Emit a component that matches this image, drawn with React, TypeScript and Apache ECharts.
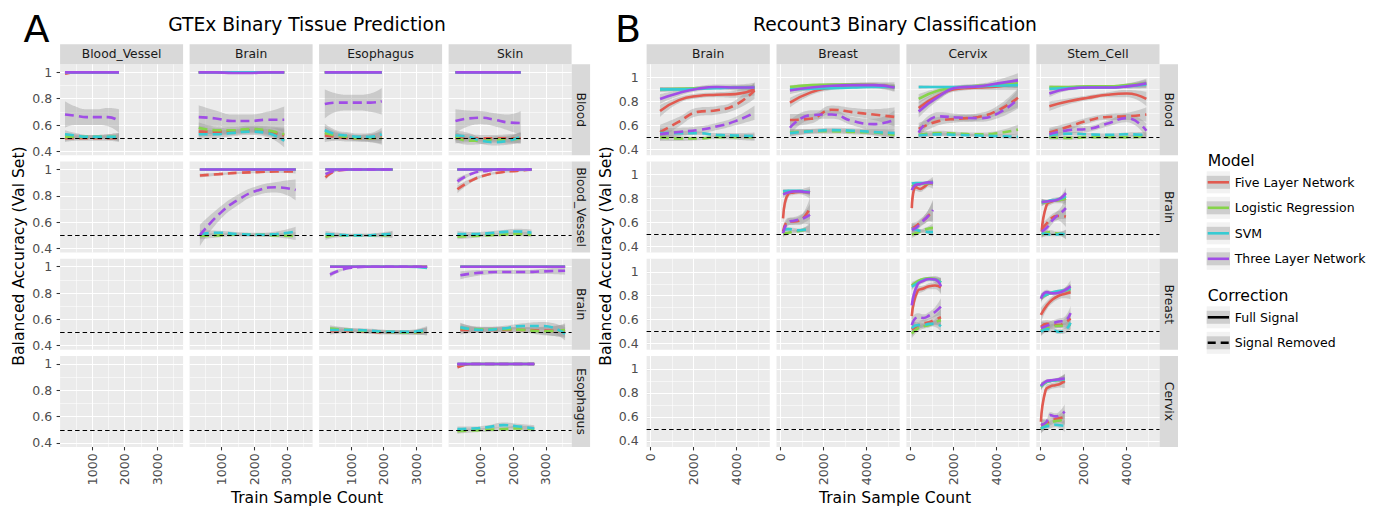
import React, { useEffect, useRef } from "react";
import * as echarts from "echarts";

const FONT = '"DejaVu Sans", "Liberation Sans", sans-serif';

// ---------- categories ----------
const models = ["Five Layer Network", "Logistic Regression", "SVM", "Three Layer Network"];
const corrections = ["Full Signal", "Signal Removed"];
const modelColors = ["#E15A50", "#86D44A", "#36CBD3", "#A04DE6"];

const gtexColumns = ["Blood_Vessel", "Brain", "Esophagus", "Skin"];
const gtexRows = ["Blood", "Blood_Vessel", "Brain", "Esophagus"];
const recountColumns = ["Brain", "Breast", "Cervix", "Stem_Cell"];
const recountRows = ["Blood", "Brain", "Breast", "Cervix"];

// ---------- tick values ----------
const gtexXTicks = [1000, 2000, 3000];
const gtexXMinor = [500, 1500, 2500, 3500];
const recountXTicks = [0, 2000, 4000];
const recountXMinor = [1000, 3000, 5000];
const yTicks = [0.4, 0.6, 0.8, 1.0];
const yMinor = [0.5, 0.7, 0.9];
const chanceLevel = 0.5;

// ---------- facet data ----------
// y / se rows in order: Five Full, Five Removed, LR Full, LR Removed,
// SVM Full, SVM Removed, Three Full, Three Removed
type Facet = { row: string; col: string; x: number[]; y: number[][]; se: number[][] };

const perfect = [1, 1, 1, 1, 1, 1];
const seFlat = [0.006, 0.003, 0.003, 0.003, 0.003, 0.006];

const gtexBloodBloodVessel: Facet = {
  row: "Blood", col: "Blood_Vessel",
  x: [170, 500, 830, 1160, 1490, 1825],
  y: [
    [0.99, 1, 1, 1, 1, 1], [0.5, 0.5, 0.5, 0.5, 0.5, 0.5],
    perfect, [0.51, 0.51, 0.51, 0.51, 0.51, 0.51],
    perfect, [0.53, 0.52, 0.51, 0.51, 0.51, 0.51],
    perfect, [0.68, 0.67, 0.66, 0.66, 0.66, 0.63],
  ],
  se: [
    [0.01, 0.004, 0.003, 0.003, 0.004, 0.008], [0.03, 0.02, 0.02, 0.02, 0.02, 0.03],
    seFlat, [0.03, 0.02, 0.015, 0.015, 0.02, 0.03],
    seFlat, [0.03, 0.02, 0.015, 0.015, 0.02, 0.03],
    seFlat, [0.1, 0.07, 0.06, 0.06, 0.07, 0.09],
  ],
};
const gtexBloodBrain: Facet = {
  row: "Blood", col: "Brain",
  x: [300, 820, 1340, 1860, 2380, 2920],
  y: [
    perfect, [0.55, 0.55, 0.55, 0.56, 0.55, 0.52],
    perfect, [0.58, 0.56, 0.56, 0.57, 0.56, 0.53],
    perfect, [0.53, 0.53, 0.54, 0.55, 0.54, 0.48],
    [1, 1, 0.995, 0.995, 1, 1], [0.66, 0.65, 0.63, 0.63, 0.64, 0.64],
  ],
  se: [
    seFlat, [0.04, 0.03, 0.025, 0.025, 0.03, 0.05],
    seFlat, [0.04, 0.03, 0.025, 0.025, 0.03, 0.05],
    seFlat, [0.04, 0.03, 0.025, 0.025, 0.03, 0.05],
    seFlat, [0.09, 0.06, 0.05, 0.05, 0.06, 0.1],
  ],
};
const gtexBloodEsophagus: Facet = {
  row: "Blood", col: "Esophagus",
  x: [195, 545, 895, 1245, 1595, 1940],
  y: [
    perfect, [0.52, 0.51, 0.5, 0.5, 0.5, 0.51],
    perfect, [0.54, 0.52, 0.51, 0.5, 0.5, 0.5],
    perfect, [0.56, 0.53, 0.52, 0.51, 0.51, 0.53],
    perfect, [0.76, 0.77, 0.77, 0.77, 0.77, 0.78],
  ],
  se: [
    seFlat, [0.05, 0.03, 0.025, 0.025, 0.03, 0.05],
    seFlat, [0.05, 0.03, 0.025, 0.025, 0.03, 0.05],
    seFlat, [0.05, 0.03, 0.025, 0.025, 0.03, 0.05],
    seFlat, [0.11, 0.07, 0.06, 0.06, 0.07, 0.1],
  ],
};
const gtexBloodSkin: Facet = {
  row: "Blood", col: "Skin",
  x: [230, 630, 1030, 1430, 1830, 2230],
  y: [
    perfect, [0.5, 0.5, 0.5, 0.5, 0.5, 0.5],
    perfect, [0.51, 0.48, 0.48, 0.49, 0.49, 0.5],
    perfect, [0.52, 0.51, 0.48, 0.47, 0.48, 0.51],
    perfect, [0.63, 0.65, 0.655, 0.64, 0.62, 0.615],
  ],
  se: [
    seFlat, [0.04, 0.03, 0.025, 0.025, 0.03, 0.04],
    seFlat, [0.04, 0.03, 0.025, 0.025, 0.03, 0.04],
    seFlat, [0.04, 0.03, 0.025, 0.025, 0.03, 0.04],
    seFlat, [0.09, 0.06, 0.05, 0.05, 0.06, 0.09],
  ],
};
const gtexBloodVesselBrain: Facet = {
  row: "Blood_Vessel", col: "Brain",
  x: [335, 920, 1505, 2090, 2675, 3270],
  y: [
    perfect, [0.955, 0.965, 0.975, 0.98, 0.985, 0.985],
    perfect, [0.495, 0.5, 0.505, 0.505, 0.5, 0.495],
    perfect, [0.51, 0.52, 0.51, 0.505, 0.51, 0.53],
    perfect, [0.5, 0.66, 0.77, 0.84, 0.865, 0.845],
  ],
  se: [
    seFlat, [0.015, 0.01, 0.008, 0.008, 0.01, 0.015],
    seFlat, [0.025, 0.015, 0.012, 0.012, 0.015, 0.03],
    seFlat, [0.03, 0.015, 0.015, 0.015, 0.02, 0.035],
    seFlat, [0.08, 0.05, 0.04, 0.035, 0.04, 0.08],
  ],
};
const gtexBloodVesselEsophagus: Facet = {
  row: "Blood_Vessel", col: "Esophagus",
  x: [215, 625, 1035, 1445, 1855, 2270],
  y: [
    perfect, [0.94, 0.995, 1, 1, 1, 1],
    perfect, [0.49, 0.5, 0.5, 0.5, 0.5, 0.505],
    perfect, [0.51, 0.505, 0.5, 0.5, 0.505, 0.51],
    perfect, [0.965, 0.995, 1, 1, 1, 1],
  ],
  se: [
    seFlat, [0.02, 0.006, 0.004, 0.004, 0.005, 0.008],
    seFlat, [0.025, 0.015, 0.012, 0.012, 0.015, 0.025],
    seFlat, [0.025, 0.015, 0.012, 0.012, 0.015, 0.025],
    seFlat, [0.015, 0.005, 0.004, 0.004, 0.005, 0.008],
  ],
};
const gtexBloodVesselSkin: Facet = {
  row: "Blood_Vessel", col: "Skin",
  x: [290, 745, 1200, 1655, 2110, 2560],
  y: [
    perfect, [0.85, 0.92, 0.96, 0.98, 0.99, 1.0],
    perfect, [0.49, 0.495, 0.5, 0.505, 0.51, 0.505],
    perfect, [0.51, 0.51, 0.515, 0.525, 0.53, 0.52],
    perfect, [0.91, 0.97, 0.99, 1, 1, 1],
  ],
  se: [
    seFlat, [0.03, 0.015, 0.01, 0.008, 0.008, 0.012],
    seFlat, [0.02, 0.015, 0.012, 0.012, 0.015, 0.02],
    seFlat, [0.025, 0.015, 0.015, 0.015, 0.02, 0.025],
    seFlat, [0.025, 0.01, 0.006, 0.005, 0.005, 0.008],
  ],
};
const gtexBrainEsophagus: Facet = {
  row: "Brain", col: "Esophagus",
  x: [355, 950, 1545, 2140, 2735, 3330],
  y: [
    perfect, [0.51, 0.51, 0.505, 0.5, 0.5, 0.51],
    perfect, [0.53, 0.52, 0.51, 0.505, 0.5, 0.51],
    [1, 1, 1, 1, 1, 0.99], [0.52, 0.52, 0.515, 0.505, 0.505, 0.52],
    perfect, [0.94, 0.99, 1, 1, 1, 1],
  ],
  se: [
    seFlat, [0.025, 0.015, 0.015, 0.015, 0.015, 0.03],
    seFlat, [0.025, 0.015, 0.015, 0.015, 0.015, 0.03],
    seFlat, [0.025, 0.015, 0.015, 0.015, 0.015, 0.03],
    seFlat, [0.02, 0.006, 0.004, 0.004, 0.004, 0.01],
  ],
};
const gtexBrainSkin: Facet = {
  row: "Brain", col: "Skin",
  x: [380, 1020, 1660, 2300, 2940, 3590],
  y: [
    perfect, [0.52, 0.52, 0.52, 0.52, 0.515, 0.51],
    perfect, [0.535, 0.525, 0.525, 0.52, 0.51, 0.52],
    perfect, [0.54, 0.52, 0.53, 0.55, 0.55, 0.49],
    perfect, [0.935, 0.955, 0.96, 0.96, 0.965, 0.97],
  ],
  se: [
    seFlat, [0.035, 0.02, 0.02, 0.02, 0.03, 0.05],
    seFlat, [0.035, 0.02, 0.02, 0.02, 0.03, 0.05],
    seFlat, [0.035, 0.02, 0.02, 0.02, 0.03, 0.05],
    seFlat, [0.03, 0.02, 0.015, 0.015, 0.02, 0.03],
  ],
};
const gtexEsophagusSkin: Facet = {
  row: "Esophagus", col: "Skin",
  x: [290, 760, 1230, 1700, 2170, 2645],
  y: [
    [0.975, 1, 1, 1, 1, 1], [0.99, 1, 1, 1, 1, 1],
    perfect, [0.49, 0.495, 0.5, 0.505, 0.51, 0.505],
    perfect, [0.505, 0.51, 0.52, 0.535, 0.525, 0.51],
    perfect, perfect,
  ],
  se: [
    [0.012, 0.004, 0.003, 0.003, 0.004, 0.008], seFlat,
    seFlat, [0.02, 0.015, 0.015, 0.015, 0.02, 0.02],
    seFlat, [0.02, 0.015, 0.015, 0.02, 0.02, 0.025],
    seFlat, seFlat,
  ],
};

const recountBloodBrain: Facet = {
  row: "Blood", col: "Brain",
  x: [445, 1320, 2195, 3070, 3945, 4830],
  y: [
    [0.72, 0.81, 0.845, 0.855, 0.86, 0.9], [0.544, 0.63, 0.712, 0.725, 0.77, 0.89],
    [0.9, 0.905, 0.91, 0.915, 0.915, 0.915], [0.5, 0.49, 0.49, 0.5, 0.5, 0.5],
    [0.9, 0.9, 0.905, 0.91, 0.915, 0.915], [0.535, 0.535, 0.535, 0.52, 0.515, 0.51],
    [0.82, 0.87, 0.905, 0.92, 0.915, 0.915], [0.525, 0.545, 0.56, 0.59, 0.635, 0.705],
  ],
  se: [
    [0.05, 0.025, 0.02, 0.02, 0.03, 0.05], [0.06, 0.04, 0.035, 0.035, 0.04, 0.07],
    [0.02, 0.015, 0.01, 0.01, 0.015, 0.02], [0.03, 0.02, 0.015, 0.015, 0.02, 0.03],
    [0.02, 0.015, 0.01, 0.01, 0.015, 0.02], [0.03, 0.02, 0.015, 0.015, 0.02, 0.03],
    [0.04, 0.025, 0.02, 0.02, 0.025, 0.04], [0.05, 0.035, 0.03, 0.03, 0.035, 0.06],
  ],
};
const recountBloodBreast: Facet = {
  row: "Blood", col: "Breast",
  x: [445, 1415, 2385, 3355, 4325, 5300],
  y: [
    [0.79, 0.875, 0.915, 0.935, 0.935, 0.92], [0.645, 0.655, 0.73, 0.71, 0.69, 0.67],
    [0.92, 0.935, 0.94, 0.94, 0.935, 0.92], [0.54, 0.55, 0.55, 0.545, 0.54, 0.52],
    [0.9, 0.905, 0.91, 0.915, 0.92, 0.92], [0.535, 0.55, 0.56, 0.555, 0.545, 0.535],
    [0.89, 0.915, 0.93, 0.935, 0.935, 0.915], [0.58, 0.685, 0.69, 0.635, 0.61, 0.645],
  ],
  se: [
    [0.04, 0.025, 0.02, 0.02, 0.025, 0.04], [0.05, 0.04, 0.035, 0.035, 0.045, 0.08],
    [0.015, 0.01, 0.01, 0.01, 0.01, 0.02], [0.03, 0.02, 0.02, 0.02, 0.025, 0.035],
    [0.015, 0.01, 0.01, 0.01, 0.01, 0.02], [0.03, 0.02, 0.02, 0.02, 0.025, 0.035],
    [0.03, 0.02, 0.015, 0.015, 0.02, 0.03], [0.06, 0.04, 0.035, 0.035, 0.045, 0.08],
  ],
};
const recountBloodCervix: Facet = {
  row: "Blood", col: "Cervix",
  x: [390, 1310, 2230, 3150, 4070, 5000],
  y: [
    [0.745, 0.85, 0.905, 0.915, 0.925, 0.945], [0.57, 0.635, 0.655, 0.67, 0.725, 0.83],
    [0.82, 0.89, 0.915, 0.93, 0.935, 0.95], [0.52, 0.535, 0.53, 0.525, 0.535, 0.565],
    [0.92, 0.92, 0.92, 0.925, 0.93, 0.935], [0.515, 0.525, 0.52, 0.515, 0.51, 0.505],
    [0.715, 0.84, 0.915, 0.925, 0.95, 0.975], [0.54, 0.675, 0.665, 0.66, 0.7, 0.82],
  ],
  se: [
    [0.05, 0.03, 0.02, 0.02, 0.03, 0.05], [0.05, 0.035, 0.03, 0.03, 0.04, 0.08],
    [0.04, 0.02, 0.015, 0.015, 0.02, 0.04], [0.03, 0.02, 0.015, 0.015, 0.02, 0.04],
    [0.015, 0.01, 0.01, 0.01, 0.01, 0.02], [0.02, 0.015, 0.012, 0.012, 0.015, 0.025],
    [0.05, 0.03, 0.02, 0.02, 0.03, 0.06], [0.05, 0.035, 0.03, 0.03, 0.04, 0.08],
  ],
};
const recountBloodStemCell: Facet = {
  row: "Blood", col: "Stem_Cell",
  x: [425, 1325, 2225, 3125, 4025, 4930],
  y: [
    [0.76, 0.8, 0.83, 0.855, 0.865, 0.82], [0.54, 0.59, 0.64, 0.67, 0.675, 0.69],
    [0.92, 0.92, 0.925, 0.925, 0.935, 0.95], [0.5, 0.495, 0.5, 0.5, 0.5, 0.51],
    [0.905, 0.91, 0.915, 0.915, 0.925, 0.94], [0.515, 0.53, 0.525, 0.52, 0.525, 0.52],
    [0.865, 0.905, 0.915, 0.915, 0.925, 0.95], [0.525, 0.56, 0.57, 0.615, 0.66, 0.555],
  ],
  se: [
    [0.04, 0.025, 0.02, 0.02, 0.03, 0.06], [0.04, 0.03, 0.025, 0.025, 0.03, 0.06],
    [0.015, 0.01, 0.01, 0.01, 0.015, 0.03], [0.02, 0.015, 0.012, 0.012, 0.015, 0.025],
    [0.015, 0.01, 0.01, 0.01, 0.015, 0.03], [0.02, 0.015, 0.012, 0.012, 0.015, 0.025],
    [0.03, 0.015, 0.012, 0.012, 0.02, 0.04], [0.04, 0.03, 0.025, 0.025, 0.035, 0.06],
  ],
};
const recountBrainBreast: Facet = {
  row: "Brain", col: "Breast",
  x: [125, 375, 625, 875, 1125, 1375],
  y: [
    [0.635, 0.84, 0.85, 0.855, 0.855, 0.85], [0.525, 0.61, 0.61, 0.615, 0.65, 0.72],
    [0.85, 0.855, 0.86, 0.86, 0.855, 0.85], [0.505, 0.515, 0.525, 0.53, 0.54, 0.555],
    [0.86, 0.865, 0.865, 0.865, 0.86, 0.855], [0.54, 0.545, 0.54, 0.535, 0.54, 0.54],
    [0.835, 0.85, 0.86, 0.86, 0.855, 0.85], [0.51, 0.605, 0.615, 0.625, 0.64, 0.665],
  ],
  se: [
    [0.05, 0.03, 0.02, 0.02, 0.03, 0.05], [0.04, 0.03, 0.03, 0.035, 0.05, 0.09],
    [0.02, 0.012, 0.01, 0.01, 0.012, 0.02], [0.025, 0.015, 0.015, 0.015, 0.02, 0.04],
    [0.02, 0.012, 0.01, 0.01, 0.012, 0.02], [0.025, 0.015, 0.015, 0.015, 0.02, 0.04],
    [0.03, 0.015, 0.012, 0.012, 0.015, 0.03], [0.04, 0.03, 0.03, 0.035, 0.05, 0.09],
  ],
};
const recountBrainCervix: Facet = {
  row: "Brain", col: "Cervix",
  x: [70, 265, 460, 660, 855, 1055],
  y: [
    [0.72, 0.895, 0.88, 0.9, 0.925, 0.93], [0.55, 0.57, 0.6, 0.625, 0.66, 0.69],
    [0.9, 0.915, 0.92, 0.925, 0.93, 0.93], [0.5, 0.51, 0.525, 0.54, 0.55, 0.555],
    [0.925, 0.93, 0.93, 0.93, 0.93, 0.935], [0.55, 0.54, 0.53, 0.525, 0.52, 0.52],
    [0.87, 0.915, 0.92, 0.93, 0.935, 0.93], [0.54, 0.555, 0.59, 0.625, 0.66, 0.705],
  ],
  se: [
    [0.05, 0.03, 0.025, 0.025, 0.03, 0.05], [0.05, 0.035, 0.03, 0.035, 0.05, 0.09],
    [0.02, 0.012, 0.01, 0.01, 0.015, 0.025], [0.03, 0.02, 0.015, 0.015, 0.02, 0.04],
    [0.015, 0.01, 0.01, 0.01, 0.012, 0.02], [0.03, 0.02, 0.015, 0.015, 0.02, 0.04],
    [0.03, 0.015, 0.012, 0.012, 0.015, 0.03], [0.05, 0.035, 0.03, 0.035, 0.05, 0.09],
  ],
};
const recountBrainStemCell: Facet = {
  row: "Brain", col: "Stem_Cell",
  x: [70, 295, 520, 745, 970, 1195],
  y: [
    [0.525, 0.745, 0.775, 0.785, 0.79, 0.8], [0.545, 0.59, 0.635, 0.655, 0.655, 0.65],
    [0.765, 0.77, 0.78, 0.785, 0.79, 0.8], [0.5, 0.515, 0.52, 0.51, 0.505, 0.5],
    [0.77, 0.775, 0.785, 0.79, 0.8, 0.82], [0.51, 0.505, 0.5, 0.5, 0.505, 0.5],
    [0.77, 0.775, 0.78, 0.785, 0.805, 0.845], [0.525, 0.555, 0.61, 0.65, 0.68, 0.72],
  ],
  se: [
    [0.05, 0.03, 0.025, 0.025, 0.03, 0.06], [0.05, 0.035, 0.03, 0.035, 0.05, 0.09],
    [0.03, 0.015, 0.012, 0.012, 0.02, 0.04], [0.03, 0.02, 0.015, 0.015, 0.02, 0.04],
    [0.03, 0.015, 0.012, 0.012, 0.02, 0.04], [0.03, 0.02, 0.015, 0.015, 0.02, 0.04],
    [0.03, 0.015, 0.012, 0.012, 0.02, 0.05], [0.05, 0.035, 0.03, 0.035, 0.05, 0.09],
  ],
};
const recountBreastCervix: Facet = {
  row: "Breast", col: "Cervix",
  x: [70, 340, 610, 880, 1150, 1425],
  y: [
    [0.63, 0.84, 0.86, 0.88, 0.885, 0.87], [0.52, 0.55, 0.57, 0.58, 0.6, 0.62],
    [0.885, 0.92, 0.94, 0.945, 0.94, 0.91], [0.485, 0.525, 0.545, 0.555, 0.58, 0.595],
    [0.875, 0.905, 0.93, 0.94, 0.935, 0.91], [0.53, 0.555, 0.555, 0.565, 0.565, 0.545],
    [0.72, 0.895, 0.925, 0.94, 0.935, 0.88], [0.555, 0.62, 0.615, 0.635, 0.665, 0.71],
  ],
  se: [
    [0.06, 0.035, 0.025, 0.025, 0.03, 0.06], [0.06, 0.035, 0.03, 0.03, 0.04, 0.07],
    [0.03, 0.015, 0.012, 0.012, 0.015, 0.04], [0.04, 0.025, 0.02, 0.02, 0.025, 0.05],
    [0.03, 0.015, 0.012, 0.012, 0.015, 0.04], [0.04, 0.025, 0.02, 0.02, 0.025, 0.05],
    [0.06, 0.03, 0.02, 0.02, 0.03, 0.06], [0.06, 0.035, 0.03, 0.03, 0.04, 0.07],
  ],
};
const recountBreastStemCell: Facet = {
  row: "Breast", col: "Stem_Cell",
  x: [35, 310, 585, 860, 1135, 1410],
  y: [
    [0.64, 0.72, 0.77, 0.8, 0.815, 0.83], [0.54, 0.565, 0.56, 0.555, 0.575, 0.61],
    [0.78, 0.81, 0.825, 0.835, 0.845, 0.855], [0.51, 0.53, 0.545, 0.55, 0.55, 0.56],
    [0.79, 0.81, 0.83, 0.84, 0.845, 0.86], [0.5, 0.52, 0.515, 0.5, 0.51, 0.575],
    [0.775, 0.83, 0.82, 0.825, 0.845, 0.88], [0.53, 0.55, 0.57, 0.585, 0.59, 0.655],
  ],
  se: [
    [0.06, 0.035, 0.03, 0.03, 0.035, 0.06], [0.05, 0.03, 0.025, 0.025, 0.035, 0.06],
    [0.03, 0.015, 0.012, 0.012, 0.02, 0.04], [0.04, 0.025, 0.02, 0.02, 0.025, 0.05],
    [0.03, 0.015, 0.012, 0.012, 0.02, 0.04], [0.04, 0.025, 0.02, 0.02, 0.025, 0.05],
    [0.04, 0.02, 0.015, 0.015, 0.02, 0.05], [0.05, 0.03, 0.025, 0.025, 0.035, 0.06],
  ],
};
const recountCervixStemCell: Facet = {
  row: "Cervix", col: "Stem_Cell",
  x: [35, 255, 475, 695, 915, 1140],
  y: [
    [0.56, 0.825, 0.855, 0.865, 0.875, 0.9], [0.53, 0.545, 0.565, 0.58, 0.59, 0.6],
    [0.85, 0.885, 0.9, 0.905, 0.91, 0.915], [0.5, 0.53, 0.55, 0.565, 0.57, 0.58],
    [0.855, 0.89, 0.9, 0.905, 0.91, 0.915], [0.505, 0.52, 0.525, 0.535, 0.53, 0.525],
    [0.86, 0.895, 0.905, 0.91, 0.915, 0.92], [0.535, 0.55, 0.615, 0.605, 0.615, 0.645],
  ],
  se: [
    [0.06, 0.035, 0.025, 0.025, 0.03, 0.06], [0.05, 0.03, 0.025, 0.025, 0.035, 0.06],
    [0.03, 0.015, 0.012, 0.012, 0.02, 0.04], [0.04, 0.025, 0.02, 0.02, 0.025, 0.05],
    [0.03, 0.015, 0.012, 0.012, 0.02, 0.04], [0.04, 0.025, 0.02, 0.02, 0.025, 0.05],
    [0.03, 0.015, 0.012, 0.012, 0.02, 0.04], [0.05, 0.03, 0.025, 0.025, 0.035, 0.06],
  ],
};

const gtexFacets = [
  gtexBloodBloodVessel, gtexBloodBrain, gtexBloodEsophagus, gtexBloodSkin,
  gtexBloodVesselBrain, gtexBloodVesselEsophagus, gtexBloodVesselSkin,
  gtexBrainEsophagus, gtexBrainSkin, gtexEsophagusSkin,
];
const recountFacets = [
  recountBloodBrain, recountBloodBreast, recountBloodCervix, recountBloodStemCell,
  recountBrainBreast, recountBrainCervix, recountBrainStemCell,
  recountBreastCervix, recountBreastStemCell, recountCervixStemCell,
];

// ---------- layout (styling only) ----------
const ROW_TOP = 64.3;
const ROW_STEP = 97.2;
const ROW_H = 91;
const STRIP_H = 20;
const STRIP_W = 18.5;
const SMOOTH = 0.5;

const panels = [
  {
    letter: "A", title: "GTEx Binary Tissue Prediction",
    rows: gtexRows, cols: gtexColumns, facets: gtexFacets,
    xMin: 20, xMax: 3790, yMin: 0.37, yMax: 1.061,
    xTicks: gtexXTicks, xMinor: gtexXMinor,
    left: 60.1, step: 129.5, width: 123,
    centerX: 307, yTitleX: 18.5, letterX: 23.5,
  },
  {
    letter: "B", title: "Recount3 Binary Classification",
    rows: recountRows, cols: recountColumns, facets: recountFacets,
    xMin: -180, xMax: 5540, yMin: 0.35, yMax: 1.109,
    xTicks: recountXTicks, xMinor: recountXMinor,
    left: 646.6, step: 129.9, width: 123.2,
    centerX: 895, yTitleX: 606, letterX: 615,
  },
];

// Same bezier construction as the ECharts line series smoothing, sampled to a polyline
function smoothSample(pts: number[][], smooth: number): number[][] {
  const out: number[][] = [];
  const n = pts.length;
  if (n === 0) return out;
  out.push(pts[0]);
  let cpx0 = pts[0][0], cpy0 = pts[0][1];
  for (let i = 1; i < n; i++) {
    const [px, py] = pts[i - 1];
    const [x, y] = pts[i];
    let cpx1 = x, cpy1 = y, nx0 = x, ny0 = y;
    if (i < n - 1 && smooth > 0) {
      const [nx, ny] = pts[i + 1];
      let vx = nx - px, vy = ny - py;
      const dx0 = x - px, dy0 = y - py, dx1 = nx - x, dy1 = ny - y;
      const lp = Math.sqrt(dx0 * dx0 + dy0 * dy0);
      const ln = Math.sqrt(dx1 * dx1 + dy1 * dy1);
      const ratio = ln / (ln + lp);
      nx0 = x + vx * smooth * ratio;
      ny0 = y + vy * smooth * ratio;
      nx0 = Math.max(Math.min(nx0, Math.max(nx, x)), Math.min(nx, x));
      ny0 = Math.max(Math.min(ny0, Math.max(ny, y)), Math.min(ny, y));
      vx = nx0 - x; vy = ny0 - y;
      cpx1 = x - vx * lp / ln;
      cpy1 = y - vy * lp / ln;
      cpx1 = Math.max(Math.min(cpx1, Math.max(px, x)), Math.min(px, x));
      cpy1 = Math.max(Math.min(cpy1, Math.max(py, y)), Math.min(py, y));
      vx = x - cpx1; vy = y - cpy1;
      nx0 = x + vx * ln / lp;
      ny0 = y + vy * ln / lp;
    }
    const steps = 14;
    for (let s = 1; s <= steps; s++) {
      const t = s / steps, u = 1 - t;
      out.push([
        u * u * u * px + 3 * u * u * t * cpx0 + 3 * u * t * t * cpx1 + t * t * t * x,
        u * u * u * py + 3 * u * u * t * cpy0 + 3 * u * t * t * cpy1 + t * t * t * y,
      ]);
    }
    cpx0 = nx0; cpy0 = ny0;
  }
  return out;
}

function buildOption() {
  const grids: any[] = [];
  const xAxes: any[] = [];
  const yAxes: any[] = [];
  const series: any[] = [];
  const graphics: any[] = [];

  const txt = (x: number, y: number, text: string, size: number, opts: any = {}) => ({
    type: "text", x, y, silent: true, rotation: opts.rotation || 0,
    style: {
      text, fontSize: size, fontFamily: FONT, fill: opts.fill || "#000000",
      align: opts.align || "center", verticalAlign: "middle",
    },
  });

  panels.forEach((p) => {
    graphics.push(txt(p.letterX, 29, p.letter, 38, { align: "left" }));
    graphics.push(txt(p.centerX, 24, p.title, 18.7));
    graphics.push(txt(p.centerX, 498, "Train Sample Count", 15.6));
    graphics.push(txt(p.yTitleX, 256, "Balanced Accuracy (Val Set)", 15.6, { rotation: Math.PI / 2 }));

    for (let r = 0; r < 4; r++) {
      for (let c = 0; c < 4; c++) {
        const gi = grids.length;
        const left = p.left + c * p.step;
        const top = ROW_TOP + r * ROW_STEP;
        const isBottom = r === 3;
        const isLeft = c === 0;
        grids.push({ left, top, width: p.width, height: ROW_H, show: true, backgroundColor: "#EBEBEB", borderWidth: 0, containLabel: false });
        xAxes.push({
          type: "value", gridIndex: gi, min: p.xMin, max: p.xMax,
          axisLine: { show: false }, splitLine: { show: false },
          axisTick: { show: isBottom, customValues: p.xTicks, length: 3.5, lineStyle: { color: "#333333", width: 1.07 } },
          axisLabel: {
            show: isBottom, customValues: p.xTicks, rotate: 90, margin: 6.5,
            color: "#4D4D4D", fontSize: 12.5, fontFamily: FONT, formatter: (v: number) => String(v),
          },
        });
        yAxes.push({
          type: "value", gridIndex: gi, min: p.yMin, max: p.yMax,
          axisLine: { show: false }, splitLine: { show: false },
          axisTick: { show: isLeft, customValues: yTicks, length: 3.5, lineStyle: { color: "#333333", width: 1.07 } },
          axisLabel: {
            show: isLeft, customValues: yTicks, margin: 8,
            color: "#4D4D4D", fontSize: 12.5, fontFamily: FONT,
            formatter: (v: number) => String(parseFloat(v.toFixed(2))),
          },
        });

        // panel grid lines
        const gl = (k: string, v: number, w: number) => ({ [k]: v, lineStyle: { color: "#FFFFFF", width: w, type: "solid" } });
        series.push({
          type: "line", xAxisIndex: gi, yAxisIndex: gi, data: [], silent: true, z: 1,
          markLine: {
            silent: true, symbol: ["none", "none"], z: 1, animation: false, label: { show: false },
            data: [
              ...yMinor.map((v) => gl("yAxis", v, 0.55)),
              ...p.xMinor.map((v) => gl("xAxis", v, 0.55)),
              ...yTicks.map((v) => gl("yAxis", v, 1.1)),
              ...p.xTicks.map((v) => gl("xAxis", v, 1.1)),
            ],
          },
        });

        const f = p.facets.find((ff) => ff.row === p.rows[r] && ff.col === p.cols[c]);
        if (f) {
          for (let g = 0; g < 8; g++) {
            const m = Math.floor(g / 2);
            const corr = g % 2;
            const ys = f.y[g];
            const se = f.se[g];
            const xs = f.x;
            // confidence ribbon
            series.push({
              type: "custom", xAxisIndex: gi, yAxisIndex: gi, silent: true, z: 2, clip: true,
              data: xs.map((x, i) => [x, ys[i]]),
              renderItem: (params: any, api: any) => {
                if (params.dataIndex !== 0) return null;
                const up = smoothSample(xs.map((x, i) => api.coord([x, ys[i] + se[i]])), SMOOTH);
                const lo = smoothSample(xs.map((x, i) => api.coord([x, ys[i] - se[i]])), SMOOTH);
                return {
                  type: "polygon",
                  shape: { points: up.concat(lo.reverse()) },
                  style: { fill: "rgba(153,153,153,0.4)" },
                };
              },
            });
            // smoothed line
            series.push({
              type: "line", xAxisIndex: gi, yAxisIndex: gi, smooth: SMOOTH, showSymbol: false,
              symbol: "none", silent: true, z: 2,
              name: `${models[m]} - ${corrections[corr]}`,
              data: xs.map((x, i) => [x, ys[i]]),
              lineStyle: { color: modelColors[m], width: 2.6, type: corr ? [9, 5] : "solid", cap: "butt" },
            });
          }
        }

        // chance reference line
        series.push({
          type: "line", xAxisIndex: gi, yAxisIndex: gi, data: [], silent: true, z: 4,
          markLine: {
            silent: true, symbol: ["none", "none"], animation: false, label: { show: false },
            data: [{ yAxis: chanceLevel, lineStyle: { color: "#000000", width: 1.1, type: [4.5, 3] } }],
          },
        });

        // strips
        if (r === 0) {
          graphics.push({ type: "rect", silent: true, shape: { x: left, y: ROW_TOP - STRIP_H, width: p.width, height: STRIP_H }, style: { fill: "#D9D9D9" } });
          graphics.push(txt(left + p.width / 2, ROW_TOP - STRIP_H / 2, p.cols[c], 12.3, { fill: "#1A1A1A" }));
        }
        if (c === 3) {
          const sx = left + p.width;
          graphics.push({ type: "rect", silent: true, shape: { x: sx, y: top, width: STRIP_W, height: ROW_H }, style: { fill: "#D9D9D9" } });
          graphics.push(txt(sx + STRIP_W / 2, top + ROW_H / 2, p.rows[r], 12.3, { fill: "#1A1A1A", rotation: -Math.PI / 2 }));
        }
      }
    }
  });

  // legend
  const LX = 1206.7, KW = 23.3, KH = 22, BH = 13, LTX = 1234.7;
  const key = (cy: number, color: string, dashed: boolean) => {
    graphics.push({ type: "rect", silent: true, shape: { x: LX, y: cy - KH / 2, width: KW, height: KH }, style: { fill: "#F2F2F2" } });
    graphics.push({ type: "rect", silent: true, shape: { x: LX, y: cy - BH / 2, width: KW, height: BH }, style: { fill: "#CECECE" } });
    graphics.push({
      type: "line", silent: true, shape: { x1: LX + 1, y1: cy, x2: LX + KW - 1, y2: cy },
      style: { stroke: color, lineWidth: 2.6, lineDash: dashed ? [8, 5] : null },
    });
  };
  graphics.push(txt(1207.7, 160.7, "Model", 15.6, { align: "left" }));
  const modelYs = [182.3, 207.8, 233.3, 258.8];
  models.forEach((m, i) => {
    key(modelYs[i], modelColors[i], false);
    graphics.push(txt(LTX, modelYs[i], m, 12.5, { align: "left" }));
  });
  graphics.push(txt(1207.7, 296, "Correction", 15.6, { align: "left" }));
  const corrYs = [317.3, 342.8];
  corrections.forEach((cn, i) => {
    key(corrYs[i], "#000000", i === 1);
    graphics.push(txt(LTX, corrYs[i], cn, 12.5, { align: "left" }));
  });

  return {
    animation: false,
    backgroundColor: "#FFFFFF",
    grid: grids, xAxis: xAxes, yAxis: yAxes, series,
    graphic: { elements: graphics },
  };
}

export default function App() {
  const ref = useRef<HTMLDivElement>(null);
  useEffect(() => {
    if (!ref.current) return;
    const chart = echarts.init(ref.current, undefined, { renderer: "svg" });
    chart.setOption(buildOption() as any);
    return () => chart.dispose();
  }, []);
  return <div ref={ref} style={{ position: "fixed", left: 0, top: 0, width: 1380, height: 506 }} />;
}
